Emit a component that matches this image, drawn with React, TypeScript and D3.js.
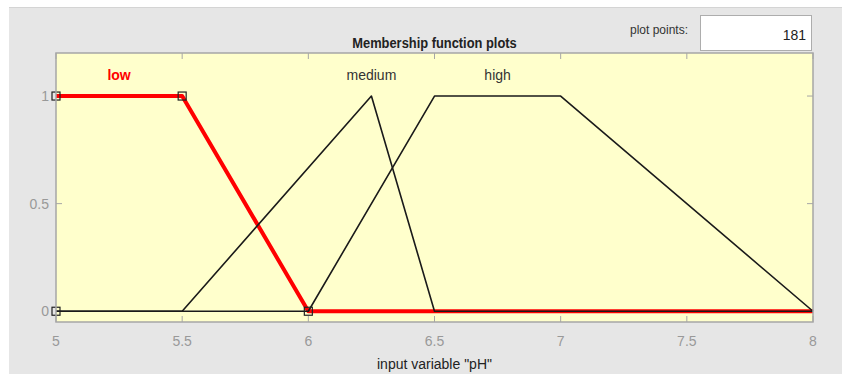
import React from 'react';
import * as d3 from 'd3';

// membership functions of input variable "pH"
const mfNames = ['low', 'medium', 'high'];
const mfParams = [
  [5, 5, 5.5, 6],       // trapmf
  [5.5, 6.25, 6.25, 6.5], // trimf written as trapezoid
  [6, 6.5, 7, 8],       // trapmf
];
const selected = 0;
const xRange = [5, 8];
const xTicks = [5, 5.5, 6, 6.5, 7, 7.5, 8];
const yTicks = [0, 0.5, 1];
const plotPoints = 181;

const W = 842;
const H = 374;
const plot = { left: 56, right: 813, top: 53, bottom: 322 };

// trapezoid membership value
const trap = (x: number, [a, b, c, d]: number[]) => {
  const l = x < a ? 0 : x >= b ? 1 : (x - a) / (b - a);
  const r = x > d ? 0 : x <= c ? 1 : (d - x) / (d - c);
  return Math.min(l, r);
};

export default function App() {
  const x = d3.scaleLinear().domain(xRange).range([plot.left, plot.right]);
  const y = d3.scaleLinear().domain([-0.05, 1.2]).range([plot.bottom, plot.top]);

  const line = d3.line<number>().x(d => x(d[0])).y(d => y(d[1]));

  const curve = (p: number[]) => {
    const xs = Array.from(new Set([xRange[0], ...p, xRange[1]]))
      .filter(v => v >= xRange[0] && v <= xRange[1])
      .sort((a, b) => a - b);
    return xs.map(v => [v, trap(v, p)]);
  };

  const font = '"Liberation Sans", Arial, sans-serif';
  const axisColor = '#a6a6a6';
  const tickLen = 6;

  const order = mfParams.map((_, i) => i).sort((a, b) => (a === selected ? -1 : b === selected ? 1 : 0));

  const sel = mfParams[selected];
  const markers = [[sel[0], 0], [sel[1], 1], [sel[2], 1], [sel[3], 0]];

  return (
    <svg width={W} height={H} style={{ position: 'absolute', left: 0, top: 0 }} fontFamily={font}>
      <rect x={0} y={0} width={W} height={H} fill="#ffffff" />
      <rect x={9} y={7} width={W - 9} height={H - 7} fill="#e6e6e6" />
      <line x1={9} x2={W} y1={7.5} y2={7.5} stroke="#d4d4d4" />

      {/* plot points box */}
      <text x={688} y={34} fontSize={12} fill="#333" textAnchor="end">plot points:</text>
      <rect x={700.5} y={15.5} width={111} height={35} fill="#fff" stroke="#adadad" />
      <text x={806} y={40} fontSize={14} fill="#222" textAnchor="end">{plotPoints}</text>

      <text x={(plot.left + plot.right) / 2} y={48} fontSize={14} fontWeight="bold" fill="#222" textAnchor="middle"
        transform={`translate(${(plot.left + plot.right) / 2},0) scale(0.92,1) translate(${-(plot.left + plot.right) / 2},0)`}>
        Membership function plots
      </text>

      <rect x={plot.left} y={plot.top} width={plot.right - plot.left} height={plot.bottom - plot.top} fill="#ffffcc" />

      {/* ticks */}
      {xTicks.map(t => (
        <g key={'xt' + t} stroke={axisColor}>
          <line x1={x(t)} x2={x(t)} y1={plot.bottom} y2={plot.bottom - tickLen} />
          <line x1={x(t)} x2={x(t)} y1={plot.top} y2={plot.top + tickLen} />
        </g>
      ))}
      {yTicks.map(t => (
        <g key={'yt' + t} stroke={axisColor}>
          <line x1={plot.left} x2={plot.left + tickLen} y1={y(t)} y2={y(t)} />
          <line x1={plot.right} x2={plot.right - tickLen} y1={y(t)} y2={y(t)} />
        </g>
      ))}

      {/* membership curves */}
      {order.map(i => (
        <path key={mfNames[i]} d={line(curve(mfParams[i]) as any) || ''} fill="none"
          stroke={i === selected ? '#ff0000' : '#1a1a1a'} strokeWidth={i === selected ? 4 : 1.6}
          strokeLinejoin="round" />
      ))}
      {markers.map((m, i) => (
        <rect key={'m' + i} x={x(m[0]) - 4} y={y(m[1]) - 4} width={8} height={8} fill="none" stroke="#222" strokeWidth={1.2} />
      ))}

      {/* mf labels */}
      {mfParams.map((p, i) => (
        <text key={'l' + i} x={x((p[1] + p[2]) / 2)} y={y(1.1) + 5} fontSize={14} textAnchor="middle"
          fill={i === selected ? '#ff0000' : '#333'} fontWeight={i === selected ? 'bold' : 'normal'}>
          {mfNames[i]}
        </text>
      ))}

      <rect x={plot.left} y={plot.top} width={plot.right - plot.left} height={plot.bottom - plot.top} fill="none" stroke={axisColor} strokeWidth={1.5} />

      {/* tick labels */}
      {xTicks.map(t => (
        <text key={'xl' + t} x={x(t)} y={346} fontSize={14} fill="#999" textAnchor="middle">{t}</text>
      ))}
      {yTicks.map(t => (
        <text key={'yl' + t} x={49} y={y(t) + 5} fontSize={14} fill="#999" textAnchor="end">{t}</text>
      ))}

      <text x={(plot.left + plot.right) / 2} y={369} fontSize={14} fill="#222" textAnchor="middle">input variable "pH"</text>
    </svg>
  );
}
